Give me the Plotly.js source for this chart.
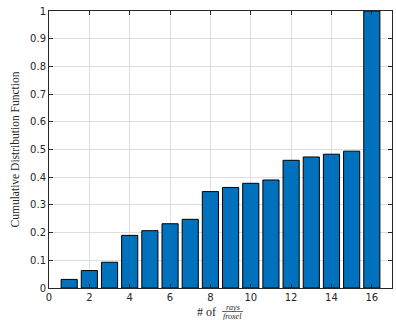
<!DOCTYPE html>
<html><head><meta charset="utf-8">
<script src="https://cdn.plot.ly/plotly-3.0.1.min.js"></script>
<style>html,body{margin:0;padding:0;background:#fff}#c{width:396px;height:320px}</style>
</head><body><div id="c"></div>
<script>
const raysPerFroxel = [1,2,3,4,5,6,7,8,9,10,11,12,13,14,15,16];
const cdfValues = [0.031,0.063,0.093,0.190,0.207,0.232,0.248,0.348,0.363,0.378,0.390,0.461,0.473,0.483,0.494,1.0];
const xTicks = [0,2,4,6,8,10,12,14,16];
const yTicks = [0,0.1,0.2,0.3,0.4,0.5,0.6,0.7,0.8,0.9,1];
const yTickLabels = ['0','0.1','0.2','0.3','0.4','0.5','0.6','0.7','0.8','0.9','1'];

const axCol = '#262626';
const trace = {
  type:'bar', x: raysPerFroxel, y: cdfValues, width: 0.8,
  marker:{color:'#0072BD', line:{color:'#000', width:1}},
  hoverinfo:'none'
};
const axisCommon = {
  showline:true, linecolor:axCol, linewidth:1, mirror:'ticks',
  ticks:'inside', ticklen:4, tickcolor:axCol, tickwidth:1,
  showgrid:true, gridcolor:'#dedede', gridwidth:1, zeroline:false,
  tickfont:{family:'DejaVu Sans', size:10, color:axCol}
};
const layout = {
  width:396, height:320,
  margin:{l:49, r:4, t:11, b:32},
  paper_bgcolor:'#fff', plot_bgcolor:'#fff',
  showlegend:false,
  xaxis: Object.assign({}, axisCommon, {range:[0,17], tickvals:xTicks, ticktext:xTicks.map(String)}),
  yaxis: Object.assign({}, axisCommon, {range:[0,1], tickvals:yTicks, ticktext:yTickLabels,
    title:{text:'Cumulative Distribution Function', font:{family:'Liberation Serif', size:11.5, color:axCol}, standoff:8}}),
  annotations:[
    {xref:'paper', yref:'paper', x:(206-49)/343, y:-(311.5-288)/277, text:'# of', showarrow:false,
     xanchor:'center', yanchor:'middle', font:{family:'Liberation Serif', size:12, color:axCol}},
    {xref:'paper', yref:'paper', x:(232.5-49)/343, y:-(307.5-288)/277, text:'<i>rays</i>', showarrow:false,
     xanchor:'center', yanchor:'middle', font:{family:'Liberation Serif', size:8, color:axCol}},
    {xref:'paper', yref:'paper', x:(232.5-49)/343, y:-(316.5-288)/277, text:'<i>froxel</i>', showarrow:false,
     xanchor:'center', yanchor:'middle', font:{family:'Liberation Serif', size:8, color:axCol}}
  ],
  shapes:[
    {type:'line', xref:'paper', yref:'paper', x0:(222-49)/343, x1:(243-49)/343,
     y0:-(311.5-288)/277, y1:-(311.5-288)/277, line:{color:axCol, width:0.7}}
  ]
};
Plotly.newPlot('c',[trace],layout,{staticPlot:true});
</script></body></html>
